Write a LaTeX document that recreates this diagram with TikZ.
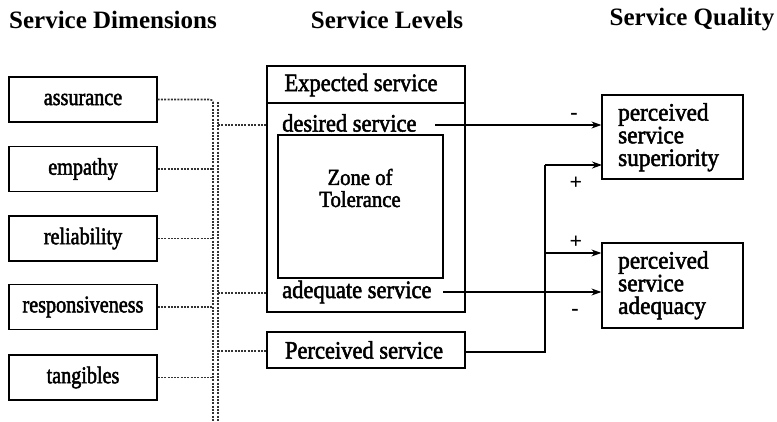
\documentclass[tikz,border=0pt]{standalone}
\usepackage{fontspec}
\setmainfont{Liberation Serif}
\newfontfamily\dimfont[FakeStretch=0.84,FakeBold=2]{Liberation Serif}
\newfontfamily\lvlfont[FakeStretch=0.9,FakeBold=2]{Liberation Serif}
\newfontfamily\qfont[FakeStretch=0.93,FakeBold=2]{Liberation Serif}
\usetikzlibrary{arrows.meta}
\begin{document}
\begin{tikzpicture}[x=1pt,y=-1pt,
  hdr/.style={font=\fontsize{25}{28}\selectfont\bfseries, inner sep=0pt},
  dimbox/.style={draw, line width=1.2pt, minimum width=148pt, minimum height=45pt,
    inner sep=0pt, font=\dimfont\fontsize{24}{26}\selectfont},
  lvltext/.style={font=\lvlfont\fontsize{25}{26}\selectfont, inner sep=0pt},
  qtext/.style={font=\qfont\fontsize{25}{22.7}\selectfont, inner sep=0pt, align=left},
  frame/.style={draw, line width=1.2pt},
  dots/.style={line width=1.6pt, dash pattern=on 2pt off 1.3pt, black!80},
  arr/.style={line width=1.2pt, -{Stealth[length=10pt,width=7pt]}},
  sign/.style={font=\fontsize{22}{22}\selectfont\bfseries, inner sep=0pt}]
\useasboundingbox (0,0) rectangle (777,421);

% column headings
\node[hdr] (h1) at (113,20) {Service Dimensions};
\node[hdr] (h2) at (387,20) {Service Levels};
\node[hdr] (h3) at (692,20) {Service Quality};

% service dimensions
\node[dimbox] (d1) at (83,99.5) {assurance};
\node[dimbox] (d2) at (83,169) {empathy};
\node[dimbox] (d3) at (83,238.5) {reliability};
\node[dimbox] (d4) at (83,307) {responsiveness};
\node[dimbox] (d5) at (83,377.5) {tangibles};

% expected service frame
\draw[frame] (267,66) rectangle (465,312);
\draw[frame] (267,103) -- (465,103);
\node[lvltext] (exp) at (361,85) {Expected service};
\node[lvltext, anchor=west] (des) at (282,123) {desired service};
\node[lvltext, anchor=west] (ade) at (282,292) {adequate service};
\node[frame, minimum width=165pt, minimum height=143pt, inner sep=0pt] (zone) at (360.5,206.5) {};
\node[lvltext, align=center, font=\lvlfont\fontsize{23}{22}\selectfont] (zt) at (360,188) {Zone of\\Tolerance};

% perceived service
\node[frame, minimum width=198pt, minimum height=36pt, inner sep=0pt] (perc) at (366,350) {};
\node[lvltext] (perct) at (364,350) {Perceived service};

% service quality
\node[frame, minimum width=141pt, minimum height=84pt, inner sep=0pt] (sup) at (672.5,137) {};
\node[qtext, anchor=north west] (supt) at (618,103) {perceived\\service\\superiority};
\node[frame, minimum width=141pt, minimum height=85pt, inner sep=0pt] (adq) at (672.5,285.5) {};
\node[qtext, anchor=north west] (adqt) at (618,251) {perceived\\service\\adequacy};

% dotted links from dimensions to levels
\coordinate (vt) at (213,102);
\coordinate (vb) at (213,421);
\coordinate (wt) at (218,102);
\coordinate (wb) at (218,421);
\draw[dots] (d1.east) -- (209,99.5) to[out=0,in=90] (vt);
\draw[dots] (vt) -- (vb);
\draw[dots] (wt) -- (wb);
\foreach \d in {d2,d3,d4,d5} \draw[dots] (\d.east) -- (\d.east -| vt);
\coordinate (l1) at (267,125);
\coordinate (l2) at (267,293);
\coordinate (l3) at (267,351);
\foreach \l in {l1,l2,l3} \draw[dots] (\l -| wt) -- (\l);

% arrows to service quality
\coordinate (s1) at (435,125);
\coordinate (s2) at (443,292);
\coordinate (j) at (545,352);
\coordinate (jb) at (545,253);
\draw[arr] (s1) -- (s1 -| sup.west);
\draw[line width=1.2pt] (perc.east |- j) -- (j) -- (545,165);
\draw[arr] (545,165) -- (602,165);
\draw[arr] (jb) -- (jb -| adq.west);
\draw[arr] (s2) -- (s2 -| adq.west);

% signs
\node[sign] (m1) at (574,116) {-};
\node[sign] (p1) at (576,183) {+};
\node[sign] (p2) at (576,242) {+};
\node[sign] (m2) at (575,312) {-};
\end{tikzpicture}
\end{document}
